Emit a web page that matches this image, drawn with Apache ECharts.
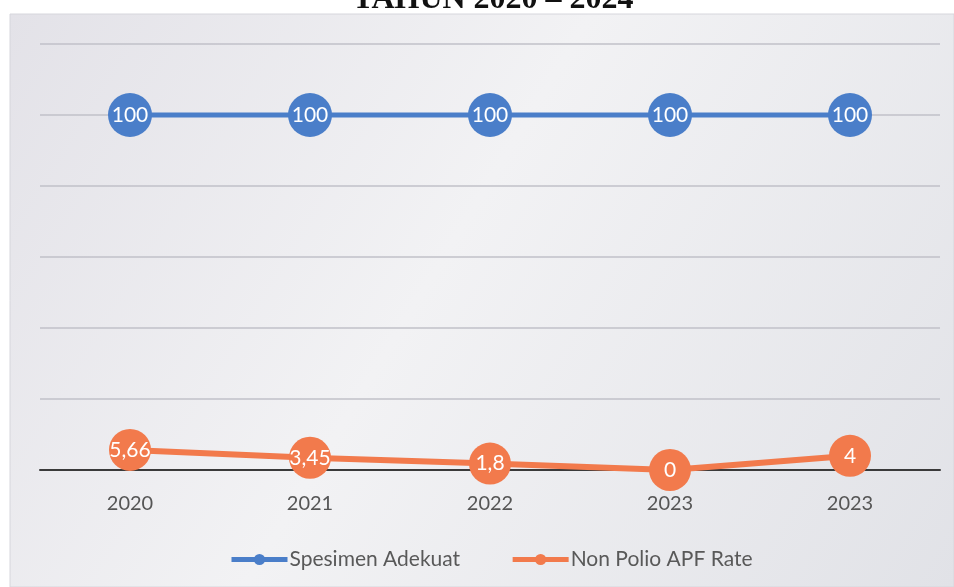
<!DOCTYPE html>
<html>
<head>
<meta charset="utf-8">
<script src="https://cdn.jsdelivr.net/npm/echarts@6/dist/echarts.min.js"></script>
<style>
html,body{margin:0;padding:0;background:#ffffff;}
#chart{width:954px;height:587px;}
</style>
</head>
<body>
<div id="chart"></div>
<script>
const titleText = 'TAHUN 2020 – 2024';
const categories = ['2020', '2021', '2022', '2023', '2023'];
const spesimenAdekuat = [100, 100, 100, 100, 100];
const nonPolioAPFRate = [5.66, 3.45, 1.8, 0, 4];
const seriesNames = ['Spesimen Adekuat', 'Non Polio APF Rate'];

const chart = echarts.init(document.getElementById('chart'));
const fontFam = 'Lato, "Open Sans", sans-serif';
const fmt = p => String(p.value).replace('.', ',');

chart.setOption({
  animation: false,
  graphic: [
    {
      type: 'rect', z: -10, silent: true,
      shape: {x: 10, y: 14, width: 944, height: 573},
      style: {
        fill: new echarts.graphic.LinearGradient(0, 0, 1, 1, [
          {offset: 0, color: '#e3e2e8'},
          {offset: 0.45, color: '#f2f2f4'},
          {offset: 1, color: '#e1e2e7'}
        ]),
        stroke: '#d6d6dc', lineWidth: 1
      }
    },
    {
      type: 'text', z: 10,
      x: 493, y: 16,
      style: {
        text: titleText,
        fill: '#111111',
        font: 'bold 32px "Liberation Serif", "DejaVu Serif", serif',
        textAlign: 'center',
        textVerticalAlign: 'bottom'
      }
    }
  ],
  grid: {left: 40, right: 14, top: 44, bottom: 117, containLabel: false},
  legend: {
    data: seriesNames,
    top: 544,
    left: 224,
    itemWidth: 56,
    itemHeight: 14,
    itemGap: 50,
    lineStyle: {width: 5},
    textStyle: {color: '#595959', fontSize: 21, fontFamily: fontFam, padding: [0, 0, 0, -3]}
  },
  xAxis: {
    type: 'category',
    data: categories,
    boundaryGap: true,
    axisLine: {show: true, lineStyle: {color: '#3a3a3a', width: 2}},
    axisTick: {show: false},
    axisLabel: {color: '#555555', fontSize: 20, fontFamily: fontFam, margin: 24}
  },
  yAxis: {
    type: 'value',
    min: 0, max: 120, interval: 20,
    axisLabel: {show: false},
    axisLine: {show: false},
    axisTick: {show: false},
    splitLine: {show: true, lineStyle: {color: '#c0c0c8', width: 1.5}}
  },
  series: [
    {
      name: seriesNames[0],
      type: 'line',
      data: spesimenAdekuat,
      symbol: 'circle',
      symbolSize: 44,
      lineStyle: {color: '#4a7ec9', width: 5},
      itemStyle: {color: '#4a7ec9'},
      label: {show: true, position: 'inside', color: '#ffffff', fontSize: 21, fontFamily: fontFam, formatter: fmt},
      z: 3
    },
    {
      name: seriesNames[1],
      type: 'line',
      data: nonPolioAPFRate,
      symbol: 'circle',
      symbolSize: 42,
      lineStyle: {color: '#f27a4c', width: 6},
      itemStyle: {color: '#f27a4c'},
      label: {show: true, position: 'inside', color: '#ffffff', fontSize: 21, fontFamily: fontFam, formatter: fmt},
      z: 4
    }
  ]
});
</script>
</body>
</html>
